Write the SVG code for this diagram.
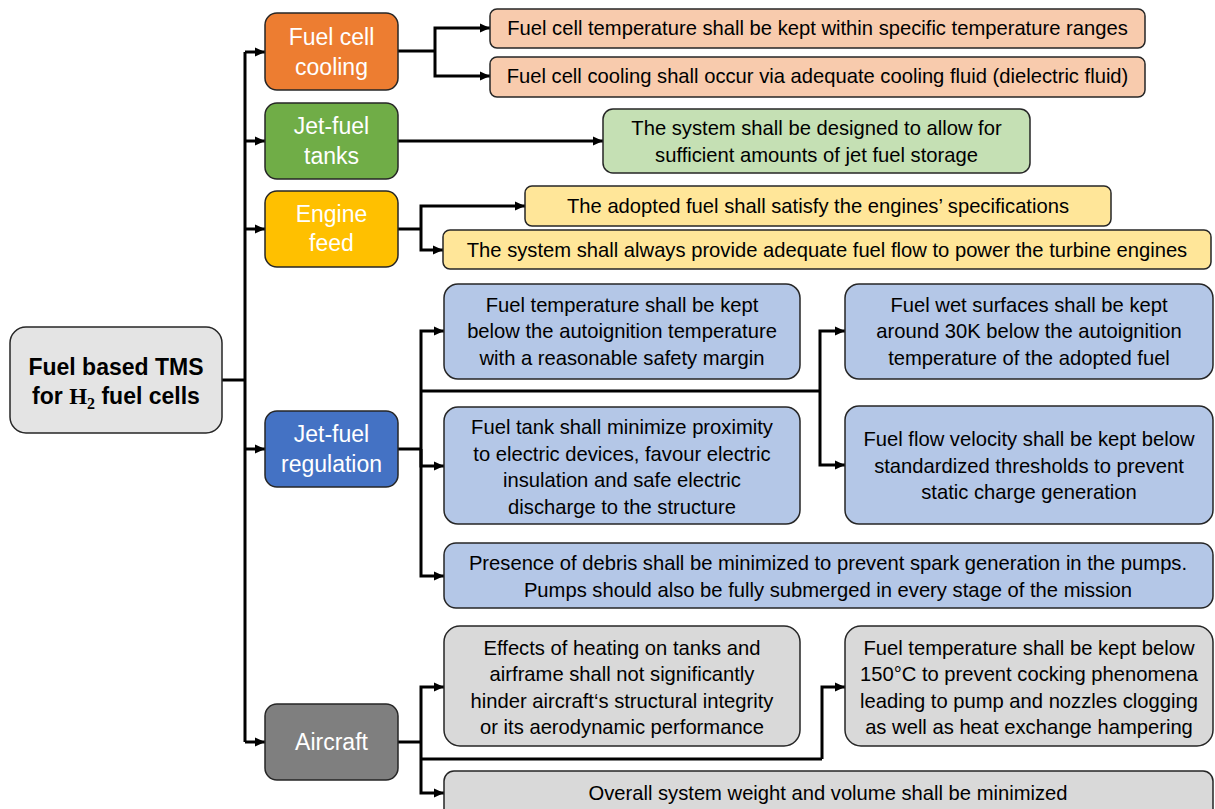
<svg xmlns="http://www.w3.org/2000/svg" width="1215" height="809" viewBox="0 0 1215 809">
  <defs>
    <marker id="arrow" viewBox="0 0 10 10" refX="10" refY="5" markerWidth="10" markerHeight="10" markerUnits="userSpaceOnUse" orient="auto">
      <path d="M0,0.5 L10,5 L0,9.5 Z" fill="#000"/>
    </marker>
    <style>
      .box { stroke: #262626; stroke-width: 1.5; }
      .root { fill: #E4E4E4; }
      .orange { fill: #ED7D31; }
      .orange-l { fill: #F8CBAD; }
      .green { fill: #70AD47; }
      .green-l { fill: #C5E0B4; }
      .yellow { fill: #FFC000; }
      .yellow-l { fill: #FFE699; }
      .blue { fill: #4472C4; }
      .blue-l { fill: #B4C7E7; }
      .gray { fill: #7F7F7F; }
      .gray-l { fill: #D9D9D9; }
      text { font-family: "Liberation Sans", Arial, sans-serif; text-anchor: middle; }
      .t { font-size: 20.2px; fill: #000; }
      .cat { font-size: 23px; fill: #fff; }
      .title { font-size: 23px; font-weight: bold; fill: #000; }
      .math { font-family: "Liberation Serif", "Times New Roman", serif; font-weight: bold; }
      .conn { fill: none; stroke: #000; stroke-width: 3; }
      .arr { marker-end: url(#arrow); }
    </style>
  </defs>

  <!-- connectors -->
  <g id="connectors">
    <!-- root trunk -->
    <path class="conn" d="M222,380 H245"/>
    <path class="conn" d="M245,52 V742"/>
    <path class="conn arr" d="M245,52 H265"/>
    <path class="conn arr" d="M245,141 H265"/>
    <path class="conn arr" d="M245,229 H265"/>
    <path class="conn arr" d="M245,449 H265"/>
    <path class="conn arr" d="M245,742 H265"/>

    <!-- fuel cell cooling -->
    <path class="conn" d="M398,51 H435"/>
    <path class="conn arr" d="M435,51 V28 H490"/>
    <path class="conn arr" d="M435,51 V76 H490"/>

    <!-- jet-fuel tanks -->
    <path class="conn arr" d="M398,141 H603"/>

    <!-- engine feed -->
    <path class="conn" d="M398,229 H421"/>
    <path class="conn arr" d="M421,229 V206 H525"/>
    <path class="conn arr" d="M421,229 V250 H443"/>

    <!-- jet-fuel regulation -->
    <path class="conn" d="M398,449 H421"/>
    <path class="conn arr" d="M421,449 V331 H444"/>
    <path class="conn arr" d="M421,449 V466 H444"/>
    <path class="conn arr" d="M421,449 V576 H444"/>
    <path class="conn" d="M421,391 H820"/>
    <path class="conn arr" d="M820,391 V331 H845"/>
    <path class="conn arr" d="M820,391 V465 H845"/>

    <!-- aircraft -->
    <path class="conn" d="M398,742 H421"/>
    <path class="conn arr" d="M421,742 V687 H444"/>
    <path class="conn arr" d="M421,742 V793 H444"/>
    <path class="conn" d="M421,759 H822"/>
    <path class="conn arr" d="M822,759 V687 H845"/>
  </g>

  <!-- root -->
  <g id="root">
    <rect class="box root" x="10" y="327" width="212" height="106" rx="16"/>
    <text class="title" x="116" y="375">Fuel based TMS</text>
    <text class="title" x="116" y="404">for <tspan class="math">H</tspan><tspan class="math" font-size="16" dy="5">2</tspan><tspan dy="-5"> fuel cells</tspan></text>
  </g>

  <!-- fuel cell cooling -->
  <g id="fuel-cell-cooling">
    <rect class="box orange" x="265" y="13" width="133" height="77" rx="12"/>
    <text class="cat" x="331.5" y="45">Fuel cell</text>
    <text class="cat" x="331.5" y="75">cooling</text>
  </g>
  <g id="fcc-temperature">
    <rect class="box orange-l" x="490" y="9" width="655" height="39" rx="7"/>
    <text class="t" x="817.5" y="35">Fuel cell temperature shall be kept within specific temperature ranges</text>
  </g>
  <g id="fcc-fluid">
    <rect class="box orange-l" x="490" y="57" width="655" height="40" rx="7"/>
    <text class="t" x="817.5" y="83">Fuel cell cooling shall occur via adequate cooling fluid (dielectric fluid)</text>
  </g>

  <!-- jet-fuel tanks -->
  <g id="jet-fuel-tanks">
    <rect class="box green" x="265" y="103" width="133" height="76" rx="12"/>
    <text class="cat" x="331.5" y="134">Jet-fuel</text>
    <text class="cat" x="331.5" y="164">tanks</text>
  </g>
  <g id="jft-storage">
    <rect class="box green-l" x="603" y="109" width="427" height="64" rx="10"/>
    <text class="t" x="816.5" y="135">The system shall be designed to allow for</text>
    <text class="t" x="816.5" y="162">sufficient amounts of jet fuel storage</text>
  </g>

  <!-- engine feed -->
  <g id="engine-feed">
    <rect class="box yellow" x="265" y="191" width="133" height="76" rx="12"/>
    <text class="cat" x="331.5" y="222">Engine</text>
    <text class="cat" x="331.5" y="251">feed</text>
  </g>
  <g id="ef-spec">
    <rect class="box yellow-l" x="525" y="186" width="586" height="40" rx="7"/>
    <text class="t" x="818" y="213">The adopted fuel shall satisfy the engines’ specifications</text>
  </g>
  <g id="ef-flow">
    <rect class="box yellow-l" x="443" y="230" width="768" height="39" rx="7"/>
    <text class="t" x="827" y="257">The system shall always provide adequate fuel flow to power the turbine engines</text>
  </g>

  <!-- jet-fuel regulation -->
  <g id="jet-fuel-regulation">
    <rect class="box blue" x="265" y="411" width="133" height="76" rx="12"/>
    <text class="cat" x="331.5" y="442">Jet-fuel</text>
    <text class="cat" x="331.5" y="472">regulation</text>
  </g>
  <g id="jfr-autoignition">
    <rect class="box blue-l" x="444" y="284" width="356" height="95" rx="14"/>
    <text class="t" x="622" y="312">Fuel temperature shall be kept</text>
    <text class="t" x="622" y="338">below the autoignition temperature</text>
    <text class="t" x="622" y="365">with a reasonable safety margin</text>
  </g>
  <g id="jfr-insulation">
    <rect class="box blue-l" x="444" y="407" width="356" height="117" rx="14"/>
    <text class="t" x="622" y="434">Fuel tank shall minimize proximity</text>
    <text class="t" x="622" y="461">to electric devices, favour electric</text>
    <text class="t" x="622" y="487">insulation and safe electric</text>
    <text class="t" x="622" y="514">discharge to the structure</text>
  </g>
  <g id="jfr-wet-surfaces">
    <rect class="box blue-l" x="845" y="284" width="368" height="95" rx="14"/>
    <text class="t" x="1029" y="312">Fuel wet surfaces shall be kept</text>
    <text class="t" x="1029" y="338">around 30K below the autoignition</text>
    <text class="t" x="1029" y="365">temperature of the adopted fuel</text>
  </g>
  <g id="jfr-flow-velocity">
    <rect class="box blue-l" x="845" y="406" width="368" height="118" rx="14"/>
    <text class="t" x="1029" y="446">Fuel flow velocity shall be kept below</text>
    <text class="t" x="1029" y="473">standardized thresholds to prevent</text>
    <text class="t" x="1029" y="499">static charge generation</text>
  </g>
  <g id="jfr-debris">
    <rect class="box blue-l" x="444" y="543" width="769" height="65" rx="12"/>
    <text class="t" x="828" y="570">Presence of debris shall be minimized to prevent spark generation in the pumps.</text>
    <text class="t" x="828" y="597">Pumps should also be fully submerged in every stage of the mission</text>
  </g>

  <!-- aircraft -->
  <g id="aircraft">
    <rect class="box gray" x="265" y="704" width="133" height="76" rx="12"/>
    <text class="cat" x="331.5" y="750">Aircraft</text>
  </g>
  <g id="ac-structure">
    <rect class="box gray-l" x="444" y="626" width="356" height="120" rx="16"/>
    <text class="t" x="622" y="655">Effects of heating on tanks and</text>
    <text class="t" x="622" y="681">airframe shall not significantly</text>
    <text class="t" x="622" y="708">hinder aircraft‘s structural integrity</text>
    <text class="t" x="622" y="734">or its aerodynamic performance</text>
  </g>
  <g id="ac-coking">
    <rect class="box gray-l" x="845" y="626" width="368" height="120" rx="16"/>
    <text class="t" x="1029" y="655">Fuel temperature shall be kept below</text>
    <text class="t" x="1029" y="681">150°C to prevent cocking phenomena</text>
    <text class="t" x="1029" y="708">leading to pump and nozzles clogging</text>
    <text class="t" x="1029" y="734">as well as heat exchange hampering</text>
  </g>
  <g id="ac-weight">
    <rect class="box gray-l" x="444" y="771" width="769" height="50" rx="10"/>
    <text class="t" x="828" y="800">Overall system weight and volume shall be minimized</text>
  </g>
</svg>
